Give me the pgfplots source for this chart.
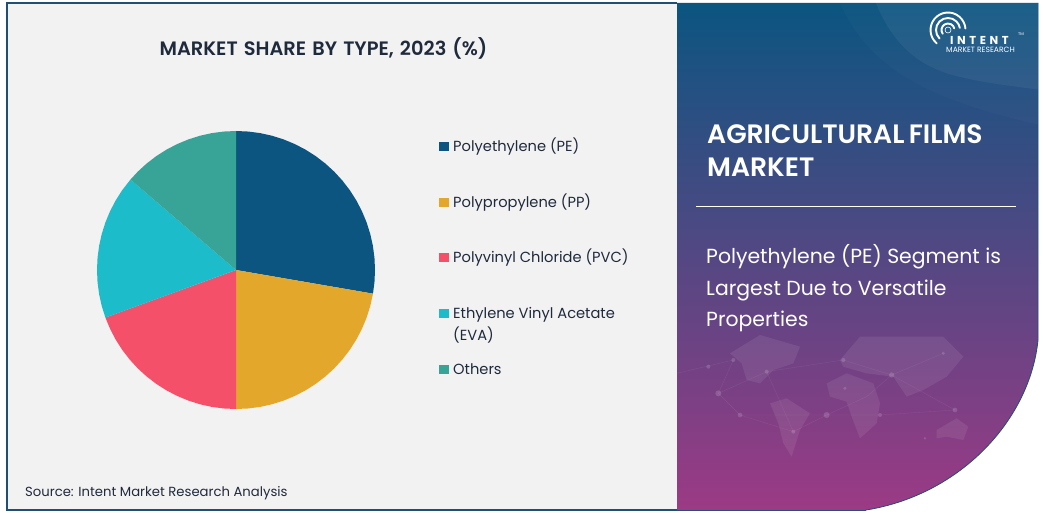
\documentclass[border=0pt]{standalone}
\usepackage{pgfplots}
\pgfplotsset{compat=1.18}
\usepackage{fontspec}
\setmainfont{Poppins}
\newfontfamily\popsemi{Poppins SemiBold}
\definecolor{cPE}{HTML}{0B5580}
\definecolor{cPP}{HTML}{E3A72C}
\definecolor{cPVC}{HTML}{F4506A}
\definecolor{cEVA}{HTML}{1DBCCB}
\definecolor{cOT}{HTML}{37A497}
\definecolor{panel}{HTML}{F2F2F2}
\definecolor{frame}{HTML}{1F4F73}
\definecolor{ink}{HTML}{1F2A3C}
\definecolor{gtop}{HTML}{0B5581}
\definecolor{gbot}{HTML}{9C3A85}
\begin{document}
\begin{tikzpicture}[x=1pt,y=-1pt]
\path[fill=white] (0,0) rectangle (1043,513);
\fill[panel] (7,3) rectangle (677,510);
\draw[frame,line width=1.2pt] (677,3) -- (7,3) -- (7,510) -- (866,510);
% right panel
\def\rpath{(677,3) -- (1038,3) -- (1038,340) .. controls (1030,420) and (960,495) .. (866,510) -- (677,510) -- cycle}
\shade[top color=gtop,bottom color=gbot] \rpath;
\draw[frame,line width=.8pt] (1038,3) -- (1038,340) .. controls (1030,420) and (960,495) .. (866,510);
\begin{scope}
\clip \rpath;
\fill[white,opacity=.05] (876,3) .. controls (895,50) and (925,70) .. (965,78) .. controls (990,84) and (1015,86) .. (1040,90) -- (1040,3) -- cycle;
\fill[white,opacity=.02] (840,3) .. controls (870,70) and (930,100) .. (1040,125) -- (1040,3) -- cycle;
% world map
\begin{scope}[shift={(660,340)},x=.3333pt,y=-.3333pt]
\fill[white,opacity=.08] (210,40)--(300,-15)--(420,20)--(400,70)--(340,90)--(300,130)--(260,120)--(245,70)--cycle;
\fill[white,opacity=.08] (330,190)--(380,175)--(450,220)--(420,270)--(395,350)--(370,310)--(355,250)--cycle;
\fill[white,opacity=.08] (500,130)--(560,100)--(640,130)--(660,190)--(650,250)--(600,295)--(575,230)--(560,185)--(510,170)--cycle;
\fill[white,opacity=.08] (540,60)--(600,-10)--(850,-10)--(910,50)--(860,110)--(790,150)--(740,170)--(700,110)--(620,100)--(550,80)--cycle;
\fill[white,opacity=.08] (830,270)--(890,235)--(925,260)--(910,300)--(860,290)--(830,295)--cycle;
\draw[white,opacity=.08,line width=.4pt] (175,160)--(320,95)--(550,60)--(695,105)--(850,40) (175,160)--(240,225)--(500,225)--(660,225)--(885,210) (500,225)--(620,170)--(695,105)--(885,210) (400,275)--(500,225) (320,95)--(400,275)--(240,225) (50,100)--(220,60)--(175,160);
\foreach \a/\b/\r in {175/160/9,240/225/7,500/225/9,400/275/6,320/95/6,550/60/6,695/105/8,885/210/7,660/225/6,220/60/6,145/80/6,555/145/5,850/40/5,795/295/4}
  \fill[white,opacity=.15] (\a,\b) circle[radius=\r];
\end{scope}
\end{scope}
% logo
\begin{scope}[shift={(948,30)},y=1pt,white,line cap=round]
\draw[line width=1.9pt] (215:6.5) arc (215:15:6.5);
\draw[line width=1.9pt] (225:12) arc (225:10:12);
\draw[line width=1.9pt] (230:17.5) arc (230:5:17.5);
\draw[line width=.6pt] (0,0) circle[radius=3];
\end{scope}
\node[white,font=\bfseries\fontsize{11.5}{12}\selectfont,anchor=base west,inner sep=0pt] at (950,45) {I\hspace{3.6pt}N\hspace{3.6pt}T\hspace{3.6pt}E\hspace{3.6pt}N\hspace{3.6pt}T};
\node[white,font=\fontsize{7.6}{8}\selectfont,anchor=base west,inner sep=0pt] at (946,52.5) {MARKET RESEARCH};
\node[white,font=\fontsize{4}{4}\selectfont,anchor=base west,inner sep=0pt] at (1018,36) {TM};
% right texts
\node[white,font=\popsemi\fontsize{26.6}{32}\selectfont,anchor=base west,inner sep=0pt] at (707,144) {AGRICULTURAL\hspace{-2pt} FILMS};
\node[white,font=\popsemi\fontsize{26.6}{32}\selectfont,anchor=base west,inner sep=0pt] at (707,176) {MARKET};
\draw[white,line width=.7pt] (696,206.5) -- (1016,206.5);
\foreach \y/\t in {263/{Polyethylene (PE) Segment is},295/{Largest Due to Versatile},326/{Properties}}
  \node[white,font=\fontsize{20.4}{24}\selectfont,anchor=base west,inner sep=0pt] at (706,\y) {\t};
% title
\node[ink,font=\popsemi\fontsize{19.4}{24}\selectfont,anchor=base,inner sep=0pt] at (323.5,56) {MARKET\hspace{1.5pt} SHARE\hspace{1.5pt} BY\hspace{1.5pt} TYPE,\hspace{1.5pt} 2023\hspace{1.5pt} (\%)};
% pie
\begin{axis}[at={(236pt,-270pt)},anchor=center,scale only axis,width=278pt,height=278pt,
  xmin=-139,xmax=139,ymin=-139,ymax=139,hide axis,clip=false,data cs=polar]
\addplot[fill=cPE,draw=none] coordinates {(0,0)(90,139)(85,139)(80,139)(75,139)(70,139)(65,139)(60,139)(55,139)(50,139)(45,139)(40,139)(35,139)(30,139)(25,139)(20,139)(15,139)(10,139)(5,139)(0,139)(-5,139)(-9.8,139)(0,0)};
\addplot[fill=cPP,draw=none] coordinates {(0,0)(-9.8,139)(-15,139)(-20,139)(-25,139)(-30,139)(-35,139)(-40,139)(-45,139)(-50,139)(-55,139)(-60,139)(-65,139)(-70,139)(-75,139)(-80,139)(-85,139)(-90,139)(0,0)};
\addplot[fill=cPVC,draw=none] coordinates {(0,0)(-90,139)(-95,139)(-100,139)(-105,139)(-110,139)(-115,139)(-120,139)(-125,139)(-130,139)(-135,139)(-140,139)(-145,139)(-150,139)(-155,139)(-160,139)(0,0)};
\addplot[fill=cEVA,draw=none] coordinates {(0,0)(200,139)(195,139)(190,139)(185,139)(180,139)(175,139)(170,139)(165,139)(160,139)(155,139)(150,139)(145,139)(139.4,139)(0,0)};
\addplot[fill=cOT,draw=none] coordinates {(0,0)(139.4,139)(135,139)(130,139)(125,139)(120,139)(115,139)(110,139)(105,139)(100,139)(95,139)(90,139)(0,0)};
\end{axis}
% legend
\foreach \y/\c/\t/\b in {146.5/cPE/{Polyethylene (PE)}/151.5,202/cPP/{Polypropylene (PP)}/207,257/cPVC/{Polyvinyl Chloride (PVC)}/262,313/cEVA/{Ethylene Vinyl Acetate}/318,369/cOT/{Others}/374}{
  \fill[\c] (439,\y-4.5) rectangle (448.5,\y+5);
  \node[ink,font=\fontsize{14.65}{18}\selectfont,anchor=base west,inner sep=0pt] at (453,\b) {\t};
}
\node[ink,font=\fontsize{14.65}{18}\selectfont,anchor=base west,inner sep=0pt] at (453,340) {(EVA)};
\node[ink,font=\fontsize{13.2}{16}\selectfont,anchor=base west,inner sep=0pt] at (25,496) {Source: Intent Market Research Analysis};
\end{tikzpicture}
\end{document}
